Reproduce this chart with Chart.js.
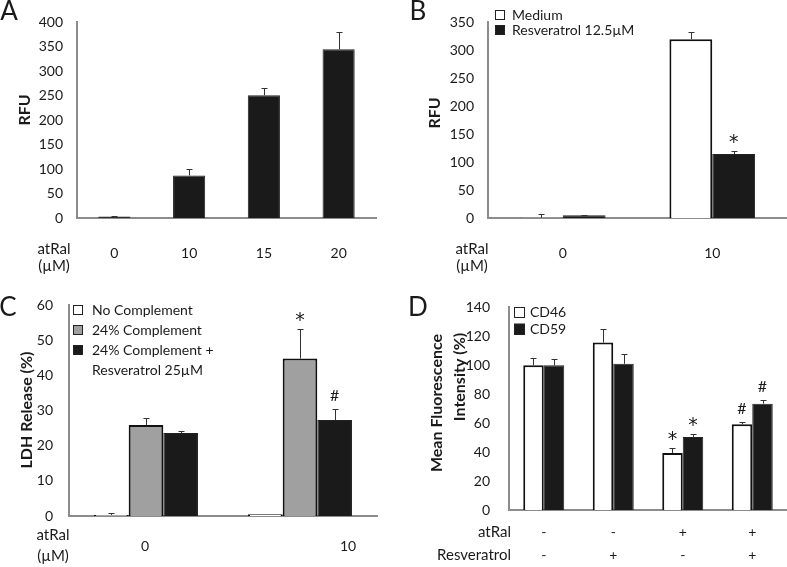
<!DOCTYPE html>
<html><head><meta charset="utf-8">
<script src="https://cdn.jsdelivr.net/npm/chart.js@4.4.1/dist/chart.umd.min.js"></script>
<style>
body{margin:0;background:#fff;width:787px;height:567px;position:relative;overflow:hidden}
.p{position:absolute}
canvas{display:block}
</style></head><body>
<div class="p" style="left:0;top:0"><canvas id="cA" width="390" height="280"></canvas></div>
<div class="p" style="left:390px;top:0"><canvas id="cB" width="397" height="280"></canvas></div>
<div class="p" style="left:0;top:280px"><canvas id="cC" width="390" height="287"></canvas></div>
<div class="p" style="left:390px;top:280px"><canvas id="cD" width="397" height="287"></canvas></div>
<script>
// ---------- DATA ----------
// Panel A
const catsA = ['0', '10', '15', '20'];
const rfuA = [3, 87, 251, 345];
const errA = [2, 13, 14, 35];
// Panel B
const catsB = ['0', '10'];
const mediumB = [0.5, 320];
const mediumErrB = [7.5, 13];
const resvB = [5, 114.5];
const resvErrB = [0.5, 5.5];
const namesB = ['Medium', 'Resveratrol 12.5µM'];
// Panel C
const catsC = ['0', '10'];
const noCompC = [0.3, 0.5];
const noCompErrC = [0.6, 0];
const compC = [25.9, 44.8];
const compErrC = [2.1, 8.5];
const compResvC = [23.6, 27.3];
const compResvErrC = [0.5, 3.1];
const namesC = ['No Complement', '24% Complement', '24% Complement +', 'Resveratrol 25µM'];
// Panel D
const atRalD = ['-', '-', '+', '+'];
const resvD = ['-', '+', '-', '+'];
const cd46D = [100, 115.7, 39.4, 59.2];
const cd46ErrD = [4.7, 9.5, 3.4, 1.8];
const cd59D = [100, 101, 50.5, 73.5];
const cd59ErrD = [4, 7, 1.9, 2.8];
const namesD = ['CD46', 'CD59'];
// significance marks: [dataset, category, symbol]
const marksB = [[1, 1, '*']];
const marksC = [[1, 1, '*'], [2, 1, '#']];
const marksD = [[0, 2, '*'], [1, 2, '*'], [0, 3, '#'], [1, 3, '#']];

// ---------- STYLE ----------
const FONT = 'Lato, "Open Sans", sans-serif';
const TXT = '#1a1a1a';
const AXIS = '#8c8c8c';
const BLACK = '#1a1a1a';
const GRAY = '#a0a0a0';

function txt(ctx, s, x, y, size, opts) {
  opts = opts || {};
  ctx.save();
  ctx.fillStyle = TXT;
  ctx.font = (opts.bold ? 'bold ' : '') + size + 'px ' + (opts.family || FONT);
  ctx.textAlign = opts.align || 'center';
  ctx.textBaseline = opts.base || 'middle';
  ctx.translate(x, y);
  if (opts.rot) ctx.rotate(opts.rot);
  ctx.fillText(s, 0, 0);
  ctx.restore();
}

function makePanel(id, d) {
  const decor = {
    id: 'decor_' + id,
    afterDraw(chart) {
      const ctx = chart.ctx;
      const ys = chart.scales.y, xs = chart.scales.x;
      // error bars
      ctx.save();
      ctx.strokeStyle = '#333';
      ctx.lineWidth = 1;
      d.errs.forEach((err, i) => {
        const meta = chart.getDatasetMeta(i);
        meta.data.forEach((bar, j) => {
          const v = chart.data.datasets[i].data[j];
          if (!err[j]) return;
          const x = Math.round(bar.x) + 0.5;
          const yt = Math.round(ys.getPixelForValue(v + err[j])) + 0.5;
          const yb = ys.getPixelForValue(v);
          ctx.beginPath();
          ctx.moveTo(x, yb); ctx.lineTo(x, yt);
          ctx.moveTo(x - 3, yt); ctx.lineTo(x + 3, yt);
          ctx.stroke();
        });
      });
      ctx.restore();
      // significance marks
      (d.marks || []).forEach(([i, j, s]) => {
        const bar = chart.getDatasetMeta(i).data[j];
        const v = chart.data.datasets[i].data[j] + d.errs[i][j];
        const y = ys.getPixelForValue(v);
        if (s === '*') txt(ctx, s, bar.x, y - 3, 19, {family: '"DejaVu Sans", sans-serif', base: 'alphabetic'});
        else txt(ctx, s, bar.x, y - 13, 16);
      });
      // category labels
      d.xRows.forEach(row => {
        row.labels.forEach((s, j) => {
          const off = row.offsets ? row.offsets[j] : 0;
          txt(ctx, s, xs.getPixelForValue(j) + off, row.y, 14);
        });
      });
      d.side.forEach(([s, x, y, al]) => txt(ctx, s, x, y, 15, {align: al || 'center'}));
      // axis title
      d.titles.forEach(([s, x, y]) => txt(ctx, s, x, y, 16, {bold: true, rot: -Math.PI / 2}));
      // panel letter
      txt(ctx, d.letter[0], d.letter[1], d.letter[2], 26);
      // legend
      if (d.legend) {
        const L = d.legend;
        L.rows.forEach((r, k) => {
          const y = L.y0 + k * L.dy;
          if (r.fill) {
            ctx.save();
            ctx.fillStyle = r.fill;
            ctx.fillRect(L.bx, y - L.bs / 2, L.bs, L.bs);
            ctx.strokeStyle = '#222';
            ctx.lineWidth = 1;
            ctx.strokeRect(L.bx + 0.5, Math.round(y - L.bs / 2) + 0.5, L.bs - 1, L.bs - 1);
            ctx.restore();
          }
          txt(ctx, r.text, L.tx, y, 14, {align: 'left'});
        });
      }
    }
  };
  return new Chart(document.getElementById(id), {
    type: 'bar',
    data: {labels: d.cats, datasets: d.sets},
    options: {
      responsive: false,
      animation: false,
      events: [],
      layout: {padding: d.pad},
      plugins: {legend: {display: false}, tooltip: {enabled: false}},
      datasets: {bar: {categoryPercentage: d.catPct, barPercentage: 1}},
      scales: {
        x: {
          grid: {display: false, drawTicks: false},
          border: {display: true, color: AXIS, width: 2},
          ticks: {display: false},
          afterFit: s => { s.height = 0; }
        },
        y: {
          min: 0, max: d.max,
          grid: {display: false, drawTicks: false},
          border: {display: true, color: AXIS, width: 2},
          ticks: {stepSize: d.step, padding: d.tickPad, color: TXT, font: {family: FONT, size: 14}},
          afterFit: s => { s.width = d.yW; }
        }
      }
    },
    plugins: [decor]
  });
}

const whiteBar = {backgroundColor: '#ffffff', borderColor: '#111', borderWidth: 2};
const blackBar = {backgroundColor: BLACK, borderColor: '#222', borderWidth: 1};
const grayBar = {backgroundColor: GRAY, borderColor: '#111', borderWidth: 2};

makePanel('cA', {
  cats: catsA,
  sets: [Object.assign({data: rfuA}, blackBar)],
  errs: [errA],
  pad: {left: 0, top: 10, right: 14, bottom: 62},
  yW: 77, max: 400, step: 50, tickPad: 14, catPct: 0.43,
  xRows: [{labels: catsA, y: 253}],
  side: [['atRal', 54, 249], ['(µM)', 54, 266]],
  titles: [['RFU', 25, 110]],
  letter: ['A', 9, 12]
});

makePanel('cB', {
  cats: catsB,
  sets: [Object.assign({data: mediumB}, whiteBar), Object.assign({data: resvB}, blackBar)],
  errs: [mediumErrB, resvErrB],
  marks: marksB,
  pad: {left: 0, top: 10, right: 0, bottom: 62},
  yW: 98, max: 350, step: 50, tickPad: 14, catPct: 0.573,
  xRows: [{labels: catsB, y: 253}],
  side: [['atRal', 82, 249], ['(µM)', 82, 266]],
  titles: [['RFU', 45, 113]],
  letter: ['B', 28, 12],
  legend: {bx: 105, bs: 10, tx: 122, y0: 15, dy: 15,
    rows: [{fill: '#fff', text: namesB[0]}, {fill: BLACK, text: namesB[1]}]}
});

makePanel('cC', {
  cats: catsC,
  sets: [Object.assign({data: noCompC}, whiteBar), Object.assign({data: compC}, grayBar), Object.assign({data: compResvC}, blackBar)],
  errs: [noCompErrC, compErrC, compResvErrC],
  marks: marksC,
  pad: {left: 0, top: 25, right: 13, bottom: 51},
  yW: 69, max: 60, step: 10, tickPad: 16, catPct: 0.675,
  xRows: [{labels: catsC, y: 266, offsets: [-1, 48]}],
  side: [['atRal', 53, 255], ['(µM)', 53, 276]],
  titles: [['LDH Release (%)', 27, 130]],
  letter: ['C', 8, 28],
  legend: {bx: 73, bs: 10, tx: 92, y0: 30, dy: 20,
    rows: [{fill: '#fff', text: namesC[0]}, {fill: GRAY, text: namesC[1]}, {fill: BLACK, text: namesC[2]}, {text: namesC[3]}]}
});

makePanel('cD', {
  cats: atRalD,
  sets: [Object.assign({data: cd46D}, whiteBar), Object.assign({data: cd59D}, blackBar)],
  errs: [cd46ErrD, cd59ErrD],
  marks: marksD,
  pad: {left: 0, top: 25, right: 0, bottom: 57},
  yW: 119, max: 140, step: 20, tickPad: 19, catPct: 0.59,
  xRows: [{labels: atRalD, y: 252}, {labels: resvD, y: 275}],
  side: [['atRal', 121, 252, 'right'], ['Resveratrol', 121, 275, 'right']],
  titles: [['Mean Fluorescence', 47, 123], ['Intensity (%)', 70, 97]],
  letter: ['D', 28, 28],
  legend: {bx: 124, bs: 11, tx: 140, y0: 32, dy: 17,
    rows: [{fill: '#fff', text: namesD[0]}, {fill: BLACK, text: namesD[1]}]}
});
</script>
</body></html>
